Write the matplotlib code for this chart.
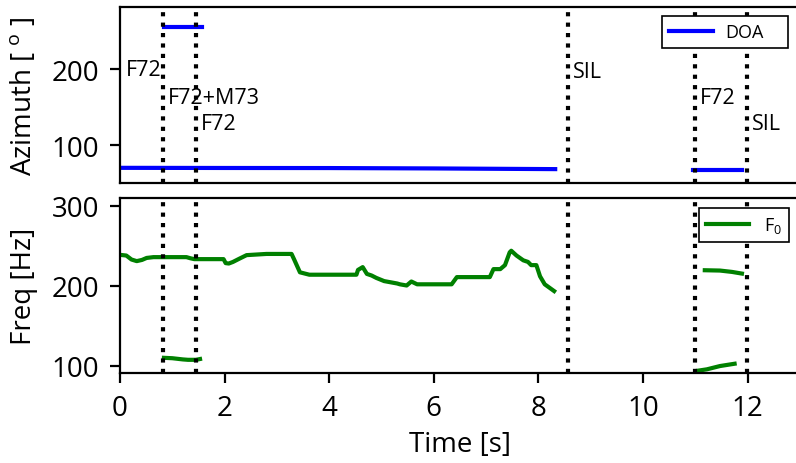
import numpy as np
import matplotlib
matplotlib.use("Agg")
from matplotlib import pyplot as plt

plt.rcParams['font.family'] = ['Open Sans', 'DejaVu Sans']
plt.rcParams['mathtext.fontset'] = 'custom'
plt.rcParams['mathtext.rm'] = 'Open Sans'
plt.rcParams['mathtext.it'] = 'Open Sans:italic'

# DOA segments (time [s], azimuth [deg])
doa_t1 = [0.0, 2.0, 4.0, 6.0, 7.5, 8.32]
doa_a1 = [70.0, 69.8, 69.7, 69.2, 68.6, 68.3]
doa_t2 = [0.84, 1.56]
doa_a2 = [255.0, 255.0]
doa_t3 = [10.96, 11.9]
doa_a3 = [67.5, 67.5]

# F0 segments (time [s], freq [Hz])
f0_t1 = [0.01, 0.12, 0.22, 0.32, 0.42, 0.51, 0.64, 0.8, 1.0, 1.27, 1.35, 1.42,
         1.7, 1.98, 2.02, 2.08, 2.16, 2.28, 2.42, 2.8, 3.28, 3.33, 3.44, 3.62,
         4.0, 4.52, 4.55, 4.64, 4.72, 4.81, 4.9, 5.05, 5.3, 5.35, 5.48, 5.57,
         5.68, 6.0, 6.34, 6.44, 6.8, 7.07, 7.14, 7.27, 7.36, 7.45, 7.48, 7.58,
         7.71, 7.8, 7.86, 7.96, 8.03, 8.12, 8.3]
f0_v1 = [238.8, 238, 233, 231, 232.5, 235, 236, 236, 236, 236, 234.5, 233.5,
         233.5, 233.5, 228.5, 228, 230, 234, 238.5, 240, 240, 233, 217, 214,
         214, 214, 220, 223.5, 215, 213, 210, 206, 203, 202, 200.5, 205.5,
         202, 202, 202, 211, 211, 211, 221, 221, 226, 242, 244, 238,
         232, 230, 226, 226, 212, 202, 193.5]
f0_t2 = [0.84, 1.0, 1.2, 1.3, 1.45, 1.53]
f0_v2 = [110, 109.5, 108, 107.5, 107.5, 108.5]
f0_t3 = [11.18, 11.47, 11.7, 11.89]
f0_v3 = [219.6, 219.2, 217.5, 215.4]
f0_t4 = [11.03, 11.22, 11.47, 11.75]
f0_v4 = [93.7, 95.6, 99.7, 102.6]

# segment boundaries and speaker labels
bounds = [0.82, 1.445, 8.56, 10.99, 11.98]
labels = ['F72', 'F72+M73', 'F72', 'SIL', 'F72', 'SIL']
label_x = [0.12, 0.92, 1.55, 8.66, 11.09, 12.08]
label_y = [200, 163, 128, 197, 163, 128]

fig = plt.figure(figsize=(7.96, 4.64), dpi=100)
ax1 = fig.add_axes([120/796, 1-184/464, 680/796, 176/464])
ax2 = fig.add_axes([120/796, 1-374/464, 680/796, 175/464])

blue = '#0000ff'
green = '#008000'
ax1.plot(doa_t1, doa_a1, color=blue, lw=3, label='DOA')
ax1.plot(doa_t2, doa_a2, color=blue, lw=3)
ax1.plot(doa_t3, doa_a3, color=blue, lw=3)

ax2.plot(f0_t1, f0_v1, color=green, lw=3, label='F$_0$')
ax2.plot(f0_t2, f0_v2, color=green, lw=3)
ax2.plot(f0_t3, f0_v3, color=green, lw=3)
ax2.plot(f0_t4, f0_v4, color=green, lw=3)

for ax in (ax1, ax2):
    for b in bounds:
        ax.axvline(b, color='black', ls=(0, (1, 1.5)), lw=3)
    ax.set_xlim(0, 13)
    for s in ax.spines.values():
        s.set_linewidth(1.6)
    ax.tick_params(width=1.6, length=7, labelsize=20, pad=8)

for lab, x, y in zip(labels, label_x, label_y):
    ax1.text(x, y, lab, fontsize=15.5, ha='left', va='center')

ax1.set_ylim(50, 282)
ax1.set_yticks([100, 200])
ax1.set_xticks(np.arange(0, 13, 2))
ax1.tick_params(axis='x', bottom=False, labelbottom=False)
ax1.set_ylabel(r'Azimuth [ $^\mathrm{o}$ ]', fontsize=20, labelpad=10)

ax2.set_ylim(91, 310)
ax2.set_yticks([100, 200, 300])
ax2.set_xticks(np.arange(0, 13, 2))
ax2.set_ylabel('Freq [Hz]', fontsize=20, labelpad=10)
ax2.set_xlabel('Time [s]', fontsize=20, labelpad=6)

leg1 = ax1.legend(loc='upper right', bbox_to_anchor=(0.797, 0, 0.185, 0.949),
                  mode='expand', fontsize=13, fancybox=False, framealpha=1,
                  edgecolor='black', handlelength=2.4, handletextpad=0.7,
                  borderaxespad=0)
leg2 = ax2.legend(loc='upper right', bbox_to_anchor=(0.984, 0.945), fontsize=13,
                  fancybox=False, framealpha=1, edgecolor='black',
                  handlelength=2.4, handletextpad=0.8, borderaxespad=0)
for leg in (leg1, leg2):
    leg.get_frame().set_linewidth(1.2)

fig.savefig('out.png', dpi=100)
